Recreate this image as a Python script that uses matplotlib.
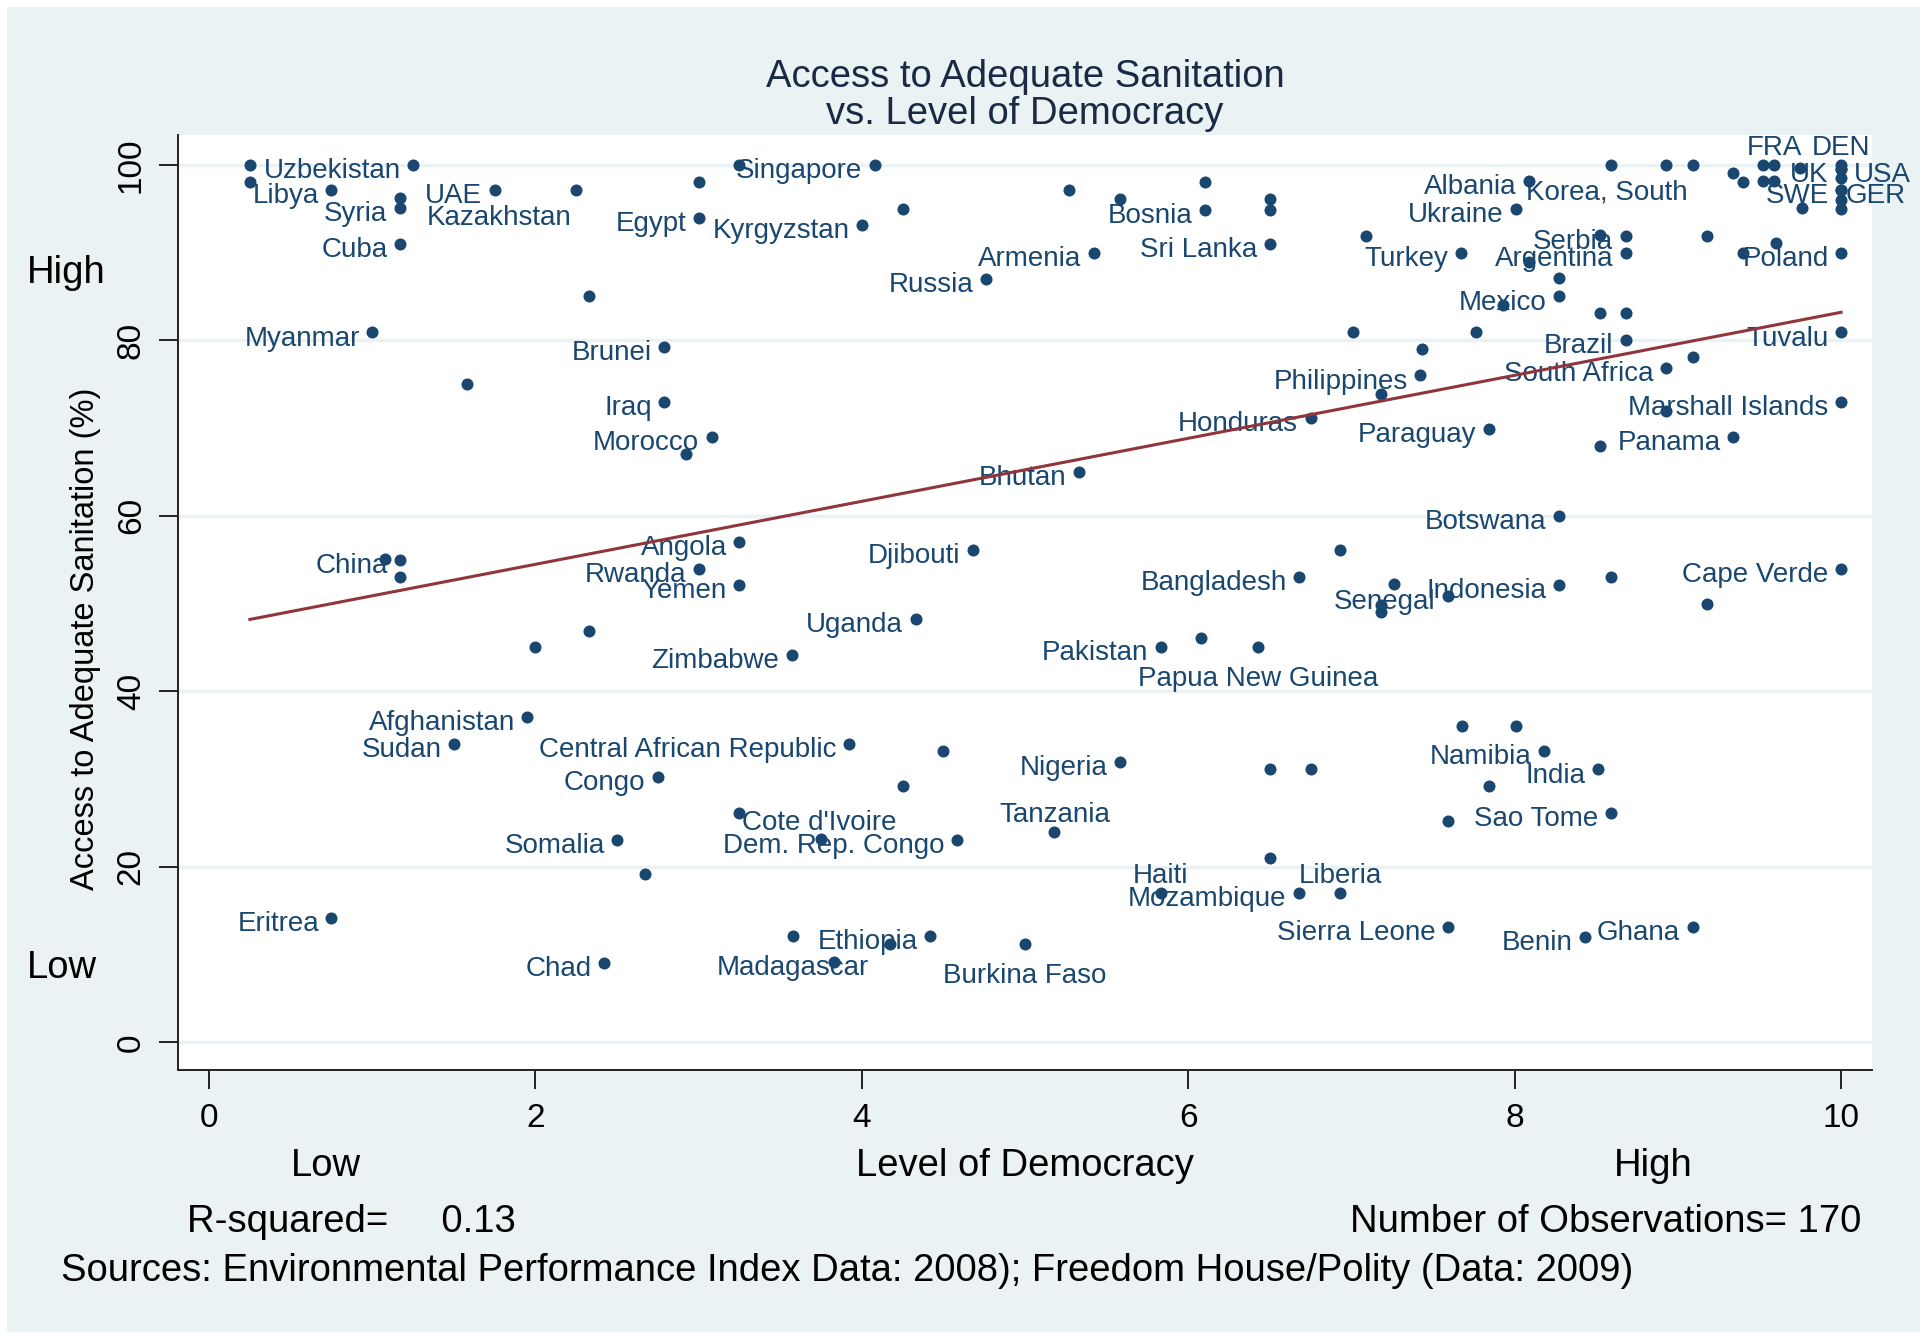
import numpy as np
import matplotlib.pyplot as plt
from matplotlib.patches import Rectangle

plt.rcParams['font.family'] = ['Liberation Sans', 'DejaVu Sans']

# =========================
# data
# =========================

democracy = [
    0.25, 1.25, 0.25, 0.75, 1.17, 1.17, 1.75, 2.25, 1.17, 2.33,
    1.00, 1.58, 2.79, 2.79, 3.08, 2.92, 3.00, 3.00, 3.25, 4.08,
    4.00, 4.25, 5.27, 5.58, 6.10, 6.10, 6.50, 6.50, 6.50, 5.42,
    4.76, 7.09, 7.67, 7.01, 7.42, 7.18, 6.75, 5.33, 8.09, 9.09,
    8.01, 8.59, 8.93, 9.34, 9.40, 9.52, 9.59, 9.52, 9.59, 9.75,
    10.0, 10.0, 10.0, 10.0, 10.0, 10.0, 10.0, 10.0, 9.76, 8.52,
    8.68, 8.68, 8.09, 8.27, 8.27, 7.93, 8.52, 8.68, 7.76, 7.43,
    8.68, 8.93, 9.09, 10.0, 10.0, 9.40, 9.60, 9.18, 10.0, 8.93,
    9.34, 8.52, 7.84, 8.27, 10.0, 9.18, 8.59, 8.27, 7.59, 7.26,
    7.18, 7.18, 4.68, 6.68, 6.93, 4.33, 3.57, 5.83, 6.08, 6.43,
    3.92, 4.50, 4.25, 5.58, 6.50, 6.75, 5.18, 4.58, 3.75, 3.25,
    6.50, 1.08, 1.17, 1.17, 3.25, 3.00, 3.25, 2.33, 2.00, 1.95,
    1.50, 2.75, 2.50, 2.67, 0.75, 2.42, 3.58, 3.83, 4.42, 4.17,
    5.00, 5.83, 6.68, 6.93, 7.59, 8.43, 9.09, 7.68, 8.01, 8.18,
    8.51, 7.84, 8.59, 7.59,
]

sanitation = [
    100, 100, 98.0, 97.1, 96.2, 95.1, 97.1, 97.1, 91.0, 85.0,
    80.9, 75.0, 79.2, 73.0, 69.0, 67.1, 94.0, 98.0, 100, 100,
    93.1, 95.0, 97.1, 96.1, 94.9, 98.0, 96.1, 94.9, 91.0, 90.0,
    87.0, 91.9, 90.0, 80.9, 76.0, 73.9, 71.2, 65.0, 98.2, 100,
    95.0, 100, 100, 99.1, 98.0, 100, 100, 98.2, 98.2, 99.7,
    100, 99.5, 99.5, 98.5, 97.1, 97.1, 96.0, 95.0, 95.1, 92.0,
    91.9, 90.0, 88.9, 87.1, 85.0, 84.0, 83.1, 83.1, 80.9, 79.0,
    80.0, 76.9, 78.1, 80.9, 90.0, 90.0, 91.1, 91.9, 73.0, 72.0,
    69.0, 68.0, 69.9, 60.0, 54.0, 50.0, 53.0, 52.1, 50.9, 52.2,
    49.8, 49.1, 56.1, 53.0, 56.1, 48.2, 44.2, 45.1, 46.1, 45.1,
    34.0, 33.2, 29.2, 32.0, 31.1, 31.1, 24.0, 23.1, 23.2, 26.1,
    21.0, 55.1, 55.0, 53.0, 57.0, 54.0, 52.1, 46.9, 45.1, 37.1,
    34.0, 30.2, 23.1, 19.2, 14.2, 9.05, 12.1, 9.2, 12.1, 11.2,
    11.2, 17.0, 17.0, 17.0, 13.1, 12.0, 13.1, 36.0, 36.0, 33.2,
    31.1, 29.2, 26.1, 25.2,
]

country = [
    '', 'Uzbekistan', '', 'Libya', '', 'Syria', 'UAE', 'Kazakhstan', 'Cuba', '',
    'Myanmar', '', 'Brunei', 'Iraq', 'Morocco', '', 'Egypt', '', '', 'Singapore',
    'Kyrgyzstan', '', '', '', 'Bosnia', '', '', '', 'Sri Lanka', 'Armenia',
    'Russia', '', 'Turkey', '', 'Philippines', '', 'Honduras', 'Bhutan', 'Albania', 'Korea, South',
    'Ukraine', '', '', '', '', '', 'FRA', '', '', '',
    'DEN', 'UK', 'USA', '', 'SWE', 'GER', '', '', '', '',
    'Serbia', 'Argentina', '', '', 'Mexico', '', '', '', '', '',
    'Brazil', 'South Africa', '', 'Tuvalu', 'Poland', '', '', '', 'Marshall Islands', '',
    'Panama', '', 'Paraguay', 'Botswana', 'Cape Verde', '', '', 'Indonesia', 'Senegal', '',
    '', '', 'Djibouti', 'Bangladesh', '', 'Uganda', 'Zimbabwe', 'Pakistan', '', 'Papua New Guinea',
    'Central African Republic', '', '', 'Nigeria', '', '', 'Tanzania', 'Dem. Rep. Congo', '', "Cote d'Ivoire",
    '', '', 'China', '', 'Angola', 'Rwanda', 'Yemen', '', '', 'Afghanistan',
    'Sudan', 'Congo', 'Somalia', '', 'Eritrea', 'Chad', 'Madagascar', '', 'Ethiopia', '',
    'Burkina Faso', 'Haiti', 'Mozambique', 'Liberia', 'Sierra Leone', 'Benin', 'Ghana', '', '', 'Namibia',
    'India', '', 'Sao Tome', '',
]

# label clock positions (Stata style), 9 o'clock unless listed
label_clock = {
    'Kazakhstan': 7, 'Korea, South': 7, 'FRA': 12, 'DEN': 12, 'USA': 3,
    'GER': 2, 'Papua New Guinea': 6, 'Tanzania': 12, "Cote d'Ivoire": 4,
    'Madagascar': 6, 'Burkina Faso': 6, 'Haiti': 12, 'Liberia': 12,
}

fit_slope, fit_intercept = 3.59, 47.3
r_squared = 0.13
n_obs = 170

x_ticks = [0, 2, 4, 6, 8, 10]
y_ticks = [0, 20, 40, 60, 80, 100]

navy = '#1A476F'
maroon = '#90353B'
bg = '#EAF2F3'

# =========================
# figure
# =========================

fig = plt.figure(figsize=(19.27, 13.37), dpi=100)
fig.patch.set_facecolor('white')
fig.patches.append(Rectangle((0.0035, 0.004), 0.993, 0.991, transform=fig.transFigure,
                             facecolor=bg, edgecolor='none', zorder=-10))

ax = fig.add_axes([0.0924, 0.1997, 0.8791, 0.6993])
ax.set_facecolor('white')
ax.set_xlim(-0.19, 10.19)
ax.set_ylim(-3.15, 103.4)

ax.scatter(democracy, sanitation, s=75, color=navy, linewidths=0, zorder=3)

# (dx, dy, ha) in points, text baseline anchored
offsets = {9: (-9, -9.4, 'right'), 3: (9, -9.4, 'left'), 2: (3, -9.4, 'left'),
           12: (0, 7, 'center'), 6: (0, -28, 'center'), 7: (-3.5, -25, 'right'),
           4: (2, -12, 'left')}
for x, y, name in zip(democracy, sanitation, country):
    if not name:
        continue
    dx, dy, ha = offsets[label_clock.get(name, 9)]
    ax.annotate(name, (x, y), xytext=(dx, dy), textcoords='offset points',
                ha=ha, va='baseline', fontsize=20, color=navy, zorder=3,
                annotation_clip=False)

fx = np.array([min(democracy), max(democracy)])
ax.plot(fx, fit_intercept + fit_slope * fx, color=maroon, lw=2.2, zorder=4)

ax.set_xticks(x_ticks)
ax.set_yticks(y_ticks)
ax.set_yticklabels([str(v) for v in y_ticks], rotation=90, va='center')
ax.tick_params(axis='both', length=13.5, width=1.4, color='#222222', labelsize=24)
ax.tick_params(axis='x', pad=10)
ax.tick_params(axis='y', pad=9)
ax.yaxis.grid(True, color=bg, lw=2.5)
ax.set_axisbelow(True)
for s in ['top', 'right']:
    ax.spines[s].set_visible(False)
for s in ['left', 'bottom']:
    ax.spines[s].set_linewidth(1.4)
    ax.spines[s].set_color('#222222')

# titles and notes
title_kw = dict(ha='center', va='center', fontsize=27.5, color='#1B2A44')
fig.text(0.532, 0.9422, 'Access to Adequate Sanitation', **title_kw)
fig.text(0.532, 0.9146, 'vs. Level of Democracy', **title_kw)

fig.text(0.0445, 0.522, 'Access to Adequate Sanitation (%)', rotation=90,
         ha='center', va='center', fontsize=23.5)
fig.text(0.014, 0.7955, 'High', ha='left', va='center', fontsize=27.5)
fig.text(0.014, 0.2762, 'Low', ha='left', va='center', fontsize=27.5)

fig.text(0.532, 0.1282, 'Level of Democracy', ha='center', va='center', fontsize=27.5)
fig.text(0.169, 0.1282, 'Low', ha='center', va='center', fontsize=27.5)
fig.text(0.858, 0.1282, 'High', ha='center', va='center', fontsize=27.5)

fig.text(0.0969, 0.0858, f'R-squared=     {r_squared:.2f}', ha='left', va='center', fontsize=27.5)
fig.text(0.9662, 0.0858, f'Number of Observations= {n_obs}', ha='right', va='center', fontsize=27.5)
fig.text(0.0319, 0.049,
         'Sources: Environmental Performance Index Data: 2008); Freedom House/Polity (Data: 2009)',
         ha='left', va='center', fontsize=27.5)

fig.savefig('out.png', dpi=100, facecolor=fig.get_facecolor())
